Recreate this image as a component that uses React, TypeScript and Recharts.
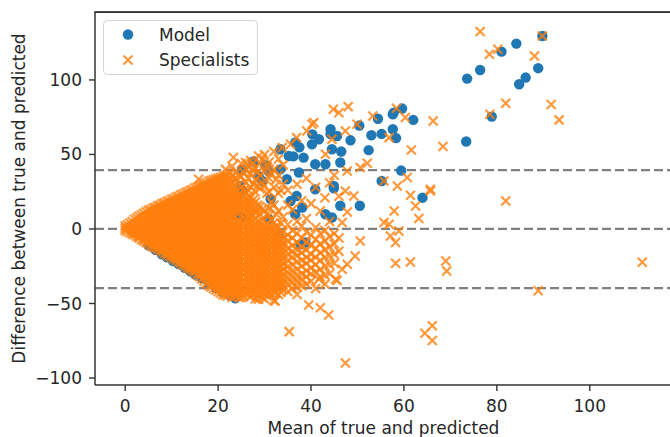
import React from 'react';
import { ScatterChart, Scatter, XAxis, YAxis, ReferenceLine, Legend, Label } from 'recharts';

const FONT = '"DejaVu Sans", sans-serif';
const BLUE = '#1f77b4';
const ORANGE = '#ff7f0e';
const TEXT = '#262626';
const SPINE = '#333333';

const xTicks = [0, 20, 40, 60, 80, 100];
const yTicks = [-100, -50, 0, 50, 100];
const limitLines = [39.5, 0, -39.7];
const xDomain: [number, number] = [-6.5, 117.7];
const yDomain: [number, number] = [-104.7, 145.6];
const frameTop = 145.5;

// Specialists: dense core, one column per mean value, listing the differences seen
const specialistsCore: [number, number[]][] = [
  [0, [2, 0.5, -1]],
  [1, [4, 1, -2.5]],
  [2, [6.5, 3.5, 0.5, -2.5, -4]],
  [3, [8.5, 5, 1.5, -2, -5, -6]],
  [4, [10.5, 7, 3.5, 0, -3.5, -7, -8]],
  [5, [12.5, 9, 5.5, 2, -1.5, -5, -8, -10]],
  [6, [14, 10.5, 7, 3.5, 0, -3.5, -7, -10, -12]],
  [7, [15.5, 12, 8.5, 5, 1.5, -2, -5.5, -9, -12, -13.5]],
  [8, [17, 13.5, 10, 6.5, 3, -0.5, -4, -7.5, -11, -14, -15.5]],
  [9, [18.5, 15, 11.5, 8, 4.5, 1, -2.5, -6, -9.5, -13, -16, -17.5]],
  [10, [20, 16.5, 13, 9.5, 6, 2.5, -1, -4.5, -8, -11.5, -15, -17.5, -19]],
  [11, [21.5, 18, 14.5, 11, 7.5, 4, 0.5, -3, -6.5, -10, -13.5, -17, -19.5, -21]],
  [12, [23, 19.5, 16, 12.5, 9, 5.5, 2, -1.5, -5, -8.5, -12, -15.5, -19, -21.5, -23]],
  [13, [24.5, 21, 17.5, 14, 10.5, 7, 3.5, 0, -3.5, -7, -10.5, -14, -17.5, -21, -23.5, -25]],
  [14, [26, 22.5, 19, 15.5, 12, 8.5, 5, 1.5, -2, -5.5, -9, -12.5, -16, -19.5, -23, -25.5, -27]],
  [15, [27.5, 24, 20.5, 17, 13.5, 10, 6.5, 3, -0.5, -4, -7.5, -11, -14.5, -18, -21.5, -25, -27.5, -29]],
  [16, [29, 25.5, 22, 18.5, 15, 11.5, 8, 4.5, 1, -2.5, -6, -9.5, -13, -16.5, -20, -23.5, -27, -30, -32]],
  [17, [30.5, 27, 23.5, 20, 16.5, 13, 9.5, 6, 2.5, -1, -4.5, -8, -11.5, -15, -18.5, -22, -25.5, -29, -32, -35]],
  [18, [32, 28.5, 25, 21.5, 18, 14.5, 11, 7.5, 4, 0.5, -3, -6.5, -10, -13.5, -17, -20.5, -24, -27.5, -31, -34.5, -38]],
  [19, [33, 29.5, 26, 22.5, 19, 15.5, 12, 8.5, 5, 1.5, -2, -5.5, -9, -12.5, -16, -19.5, -23, -26.5, -30, -33.5, -37, -40]],
  [20, [34, 30.5, 27, 23.5, 20, 16.5, 13, 9.5, 6, 2.5, -1, -4.5, -8, -11.5, -15, -18.5, -22, -25.5, -29, -32.5, -36, -39.5, -42]],
  [21, [35, 31.5, 28, 24.5, 21, 17.5, 14, 10.5, 7, 3.5, 0, -3.5, -7, -10.5, -14, -17.5, -21, -24.5, -28, -31.5, -35, -38.5, -41.5, -44]],
  [22, [36, 32.5, 29, 25.5, 22, 18.5, 15, 11.5, 8, 4.5, 1, -2.5, -6, -9.5, -13, -16.5, -20, -23.5, -27, -30.5, -34, -37.5, -41, -45]],
  [23, [42, 36, 31, 27, 23.5, 20, 16.5, 13, 9.5, 6, 2.5, -1, -4.5, -8, -11.5, -15, -18.5, -22, -25.5, -29, -32.5, -36, -39.5, -43, -46]],
  [24, [38, 33, 25, 21.5, 18, 14.5, 11, 4, 0.5, -3, -6.5, -10, -13.5, -17, -20.5, -24, -27.5, -31, -34.5, -38, -41.5, -45]],
  [25, [44, 35, 28, 23, 19.5, 16, 12.5, 3, -1, -4.5, -8, -11.5, -15, -18.5, -22, -25.5, -29, -32.5, -36, -39.5, -43, -46]],
  [26, [40, 31, 24, 20, 16.5, 13, 9.5, 6, 2.5, -1, -4.5, -8, -11.5, -15, -18.5, -22, -25.5, -29, -32.5, -36, -39.5, -43]],
  [27, [46, 37, 28, 21, 17.5, 14, 10.5, 7, 3.5, 0, -3.5, -7, -10.5, -14, -17.5, -21, -24.5, -28, -31.5, -35, -38.5, -42, -45.5]],
  [28, [41, 33, 25, 18, 14.5, 11, 3, -0.5, -4, -7.5, -11, -14.5, -18, -21.5, -25, -28.5, -32, -35.5, -39, -42.5, -47]],
  [29, [44, 36, 27, 15, 10, 4.5, 1, -2.5, -6, -9.5, -13, -16.5, -20, -23.5, -27, -30.5, -34, -37.5, -41, -44.5]],
  [30, [50, 39, 29, 12, 2, -1.5, -5, -8.5, -12, -15.5, -19, -22.5, -26, -29.5, -33, -36.5, -40, -43.5, -47]],
  [31, [45, 34, 25, 14, 9, -0.5, -4, -7.5, -11, -14.5, -18, -21.5, -25, -28.5, -32, -35.5, -39, -42.5]],
  [32, [52, 40, 28, 16, 4, 0, -3.5, -7, -10.5, -14, -17.5, -21, -24.5, -28, -31.5, -35, -38.5, -42, -48]],
  [33, [47, 36, 24, 12, 1, -5, -8.5, -12, -15.5, -19, -22.5, -26, -29.5, -33, -36.5, -40, -44]],
  [34, [43, 30, 8, -2, -6, -9.5, -13, -16.5, -20, -23.5, -27, -30.5, -34, -37.5, -41]],
  [35, [26, 16, 3, -4, -8, -13, -17, -21, -25, -29, -33, -37, -42]],
  [36, [13, -1, -6, -11, -15, -19, -24, -28, -32, -36, -40]],
  [37, [30, 5, -3, -9, -14, -18, -22, -27, -31, -35, -39, -44]],
  [38, [19, 2, -6, -12, -16, -21, -25, -30, -34, -38]],
  [39, [34, 7, -2, -9, -14, -19, -23, -28, -32, -37]],
  [40, [17, -4, -11, -17, -21, -26, -30, -35]],
  [41, [28, 1, -7, -13, -19, -24, -29, -40]],
  [42, [12, -3, -10, -16, -21, -27, -32]],
  [43, [21, -1, -8, -14, -19, -25, -31, -37]],
  [44, [31, 5, -5, -12, -18, -24, -30]],
  [45, [36, -3, -10, -17, -23]],
  [46, [22, -6, -15]],
];

// Specialists: dense core, in-between columns
const specialistsCoreMid: [number, number[]][] = [
  [0.5, [2.8, 0.5, -1.7]],
  [1.5, [5, 2, -1, -3.3]],
  [2.5, [7.5, 4, 0.5, -3, -5]],
  [3.5, [9.5, 6, 2.5, -1, -4.5, -7]],
  [4.5, [11.5, 8, 4.5, 1, -2.5, -6, -9]],
  [5.5, [13, 9.5, 6, 2.5, -1, -4.5, -8, -11]],
  [6.5, [14.5, 11, 7.5, 4, 0.5, -3, -6.5, -10, -12.8]],
  [7.5, [16, 12.5, 9, 5.5, 2, -1.5, -5, -8.5, -12, -14.5]],
  [8.5, [17.5, 14, 10.5, 7, 3.5, 0, -3.5, -7, -10.5, -14, -16.5]],
  [9.5, [19, 15.5, 12, 8.5, 5, 1.5, -2, -5.5, -9, -12.5, -16, -18.3]],
  [10.5, [20.5, 17, 13.5, 10, 6.5, 3, -0.5, -4, -7.5, -11, -14.5, -18, -20]],
  [11.5, [22, 18.5, 15, 11.5, 8, 4.5, 1, -2.5, -6, -9.5, -13, -16.5, -20, -22]],
  [12.5, [23.5, 20, 16.5, 13, 9.5, 6, 2.5, -1, -4.5, -8, -11.5, -15, -18.5, -22, -24]],
  [13.5, [25, 21.5, 18, 14.5, 11, 7.5, 4, 0.5, -3, -6.5, -10, -13.5, -17, -20.5, -24, -26]],
  [14.5, [26.5, 23, 19.5, 16, 12.5, 9, 5.5, 2, -1.5, -5, -8.5, -12, -15.5, -19, -22.5, -26, -28]],
  [15.5, [28, 24.5, 21, 17.5, 14, 10.5, 7, 3.5, 0, -3.5, -7, -10.5, -14, -17.5, -21, -24.5, -28, -30.5]],
  [16.5, [29.5, 26, 22.5, 19, 15.5, 12, 8.5, 5, 1.5, -2, -5.5, -9, -12.5, -16, -19.5, -23, -26.5, -30, -33.5]],
  [17.5, [31, 27.5, 24, 20.5, 17, 13.5, 10, 6.5, 3, -0.5, -4, -7.5, -11, -14.5, -18, -21.5, -25, -28.5, -32, -36.5]],
  [18.5, [32.5, 29, 25.5, 22, 18.5, 15, 11.5, 8, 4.5, 1, -2.5, -6, -9.5, -13, -16.5, -20, -23.5, -27, -30.5, -34, -39]],
  [19.5, [33.5, 30, 26.5, 23, 19.5, 16, 12.5, 9, 5.5, 2, -1.5, -5, -8.5, -12, -15.5, -19, -22.5, -26, -29.5, -33, -36.5, -41]],
  [20.5, [34.5, 31, 27.5, 24, 20.5, 17, 13.5, 10, 6.5, 3, -0.5, -4, -7.5, -11, -14.5, -18, -21.5, -25, -28.5, -32, -35.5, -39, -43]],
  [21.5, [35.5, 32, 28.5, 25, 21.5, 18, 14.5, 11, 7.5, 4, 0.5, -3, -6.5, -10, -13.5, -17, -20.5, -24, -27.5, -31, -34.5, -38, -41.5, -44.5]],
  [22.5, [37, 33.5, 30, 26.5, 23, 19.5, 16, 12.5, 9, 5.5, 2, -1.5, -5, -8.5, -12, -15.5, -19, -22.5, -26, -29.5, -33, -36.5, -40, -43.5]],
  [23.5, [34, 29, 25, 21.5, 18, 14.5, 8, 4.5, 1, -2.5, -6, -9.5, -13, -16.5, -20, -23.5, -27, -30.5, -34, -37.5, -41, -44.5]],
  [24.5, [36, 30, 23.5, 20, 16.5, 13, 6, 2.5, -1, -4.5, -8, -11.5, -15, -18.5, -22, -25.5, -29, -32.5, -36, -39.5, -43, -46]],
  [25.5, [38, 26, 21.5, 18, 14.5, 11, 7.5, 4, 0.5, -3, -6.5, -10, -13.5, -17, -20.5, -24, -27.5, -31, -34.5, -38, -41.5, -45]],
  [26.5, [42, 34, 26, 22, 18.5, 15, 11.5, 8, 4.5, 1, -2.5, -6, -9.5, -13, -16.5, -20, -23.5, -27, -30.5, -34, -37.5, -41, -44.5]],
  [27.5, [44, 30, 19.5, 16, 12.5, 9, 5.5, 2, -1.5, -5, -8.5, -12, -15.5, -19, -22.5, -26, -29.5, -33, -36.5, -40, -43.5]],
  [28.5, [38, 29, 16, 12.5, 5, 1.5, -2, -5.5, -9, -12.5, -16, -19.5, -23, -26.5, -30, -33.5, -37, -40.5, -44.5]],
  [29.5, [47, 31, 13, 6, 0, -3.5, -7, -10.5, -14, -17.5, -21, -24.5, -28, -31.5, -35, -38.5, -42, -46]],
  [30.5, [42, 24, 10, 4, 1, -2.5, -6, -9.5, -13, -16.5, -20, -23.5, -27, -30.5, -34, -37.5, -41, -45]],
  [31.5, [37, 18, 6, 0.5, -2, -5.5, -9, -12.5, -16, -19.5, -23, -26.5, -30, -33.5, -37, -40.5, -44]],
  [32.5, [33, 10, 2, -4, -7.5, -11, -14.5, -18, -21.5, -25, -28.5, -32, -35.5, -39, -43]],
  [33.5, [26, 4, -3, -7, -11, -14.5, -18, -21.5, -25, -28.5, -32, -35.5, -39, -42.5]],
];

// Specialists: scattered points [mean, difference]
const specialistsSparse: [number, number][] = [
  [76.4, 132.5], [78.4, 117.2], [80.2, 120.6], [88.1, 116.1], [89.8, 129.5], [81.9, 84.4],
  [78.5, 77], [91.7, 83.5], [93.4, 73.2], [66.3, 72.5], [68.4, 55.3], [61.6, 53], [81.9, 18.8],
  [65.7, 25.5], [58.4, 81], [60.3, 74.8], [53.3, 75.8], [48, 82.1], [46, 78], [40.6, 71.4],
  [39.1, 65.8], [36.9, 61.3], [33.8, 54.6], [23.3, 47.9], [28.7, 49], [35.6, 56.8], [44.5, 60.2],
  [43.1, 50.1], [25.9, 44.6], [21.6, 40], [27.3, 40], [47.4, 65.8], [49.9, 70.3], [56.8, 61.3],
  [52.1, 44.1], [50.6, 41.2], [47.8, 38.9], [55.7, 32.2], [60.7, 34.5], [58.6, 28.9], [65.7, 26.6],
  [47.4, 25.5], [61.4, 22.6], [49.2, 22.1], [47.8, 11.4], [57.9, 12.1], [62.5, 15.4], [63.2, 7],
  [55.7, 4.3], [56.8, 3.2], [46.7, 4.3], [58.9, -1.3], [57.1, -4.7], [58.2, -9.1], [50.6, -8.1],
  [49.5, -18.1], [47.8, -23.7], [58.2, -23], [61.4, -22.1], [69, -21.5], [69.2, -28.2], [46.7, -27],
  [111.3, -22.3], [88.9, -41.4], [66.1, -64.9], [64.5, -70], [66.1, -74.9], [47.4, -90],
  [45.6, -34.6], [39.5, -51], [42, -52.8], [43.8, -57.7], [35.3, -68.9], [32.3, -48.3],
  [28.7, -47.2], [45.3, -33.8], [41.7, -33.8], [40.2, 70.3], [44.8, 80.3], [15.8, 33.4],
];

// Model: [mean, difference]
const modelPoints: [number, number][] = [
  [5, -11], [6.5, -14], [7.9, -17], [9, -19], [10.3, -21.5], [11.5, -23.5], [12.8, -26], [14, -28.5],
  [15, -30.5], [16.5, -33], [18, -36.5], [19.5, -39.5], [21, -42.5], [22.5, -44.5], [23.7, -46.5],
  [12.2, 18.8], [17.6, 12], [18.3, 23], [8, 5], [15, -10], [20, -20],
  [20.8, 33.4], [25.2, 40], [28.7, 35.6], [27.6, 45.3], [30.2, 42.7], [24.7, 28.9], [25.2, 25.5],
  [25.5, 7.7], [24.3, 9], [31.3, 20], [30.9, 6.5], [33, -3.6], [29.5, 32.2], [30.9, 38.9],
  [33.4, 40], [34.8, 33.4], [33.4, 53.5], [35.2, 49], [38.4, 47.9], [36.6, 58], [41.7, 60.2],
  [44.2, 63.6], [40.2, 56.8], [44.5, 53.5], [40.9, 43.4], [43.1, 43.4], [37.4, 37.9], [44.9, 28.9],
  [44.9, 27.3], [40.9, 26.6], [43.1, 9.9], [44.5, 7.7], [36.6, 9.9], [35.6, 18.8], [38.1, 14.4],
  [36.9, 22.1], [38.8, -9.1], [37.7, -10.3], [37.5, 54.8], [36.2, 48.7], [40.3, 63.5], [44.2, 66.9],
  [45.6, 62.4], [46.5, 52], [46.3, 44.6], [46.3, 15.6], [48.5, 59.5], [50.4, 69.4], [50.5, 15.6],
  [52.4, 52.9], [53, 62.9], [54.4, 74], [55.2, 63.8], [55.2, 32.2], [57.6, 66.9], [57.6, 77],
  [57.8, 78.1], [58.3, 61], [59.4, 39.2], [59.6, 80.8], [62, 73.2], [64, 21],
  [73.4, 58.7], [73.6, 100.9], [76.4, 106.7], [78.9, 75.4], [81, 119], [84.2, 124.4], [84.8, 97.1],
  [86.2, 101.6], [88.9, 107.9], [89.8, 129.5],
];

const modelData = modelPoints.map(([v, d]) => ({ v, d }));
const specialistsData = [
  ...specialistsCore.flatMap(([v, ds]) => ds.map((d) => ({ v, d }))),
  ...specialistsCoreMid.flatMap(([v, ds]) => ds.map((d) => ({ v, d }))),
  ...specialistsSparse.map(([v, d]) => ({ v, d })),
];

const xPath = (cx: number, cy: number, s: number) =>
  `M${cx - s},${cy - s}L${cx + s},${cy + s}M${cx - s},${cy + s}L${cx + s},${cy - s}`;

const CircleShape = (props: any) => {
  const { cx, cy } = props;
  if (cx == null || cy == null) return null;
  return <circle cx={cx} cy={cy} r={5.2} fill={BLUE} />;
};

const CrossShape = (props: any) => {
  const { cx, cy } = props;
  if (cx == null || cy == null) return null;
  return <path d={xPath(cx, cy, 4.5)} stroke={ORANGE} strokeWidth={2.2} strokeOpacity={0.8} fill="none" />;
};

const LegendBox = () => (
  <svg width={155} height={55} style={{ display: 'block' }}>
    <rect x={0.5} y={0.5} width={154} height={54} rx={4} fill="rgba(255,255,255,0.8)" stroke="#d5d5d5" />
    <circle cx={25} cy={14.5} r={5.2} fill={BLUE} />
    <path d={xPath(25, 40, 4.5)} stroke={ORANGE} strokeWidth={2.2} strokeOpacity={0.8} fill="none" />
    <text x={56} y={20.5} fontSize={17} fontFamily={FONT} fill={TEXT}>Model</text>
    <text x={56} y={45.5} fontSize={17} fontFamily={FONT} fill={TEXT}>Specialists</text>
  </svg>
);

const fmt = (v: number) => String(v).replace('-', '\u2212');

const tickStyle = { fill: TEXT, fontSize: 17, fontFamily: FONT };

const YLabel = (props: any) => {
  const vb = props.viewBox || { x: 0, y: 12, width: 95, height: 373 };
  const cx = 19;
  const cy = vb.y + vb.height / 2;
  return (
    <text
      x={cx}
      y={cy}
      transform={`rotate(-90 ${cx} ${cy})`}
      textAnchor="middle"
      dominantBaseline="central"
      fontSize={17}
      fontFamily={FONT}
      fill={TEXT}
    >
      Difference between true and predicted
    </text>
  );
};

export default function App() {
  return (
    <div style={{ position: 'absolute', left: 0, top: 0, width: 670, height: 437, overflow: 'hidden', background: '#fff' }}>
      <ScatterChart width={680} height={437} margin={{ top: 12, right: 8, bottom: 0, left: 0 }}>
        <XAxis
          dataKey="v"
          type="number"
          domain={xDomain}
          ticks={xTicks}
          height={52}
          tickSize={6}
          tickMargin={9}
          tick={tickStyle}
          tickLine={{ stroke: SPINE, strokeWidth: 1.4 }}
          axisLine={{ stroke: SPINE, strokeWidth: 1.5 }}
          allowDataOverflow
        >
          <Label value="Mean of true and predicted" position="insideBottom" offset={3} fill={TEXT} fontSize={17} fontFamily={FONT} />
        </XAxis>
        <YAxis
          dataKey="d"
          type="number"
          domain={yDomain}
          ticks={yTicks}
          width={95}
          tickSize={6}
          tickMargin={7}
          tick={tickStyle}
          tickFormatter={fmt}
          tickLine={{ stroke: SPINE, strokeWidth: 1.4 }}
          axisLine={{ stroke: SPINE, strokeWidth: 1.5 }}
          allowDataOverflow
          label={<YLabel />}
        />
        <Scatter name="Model" data={modelData} fill={BLUE} shape={CircleShape} isAnimationActive={false} />
        <Scatter name="Specialists" data={specialistsData} fill={ORANGE} shape={CrossShape} isAnimationActive={false} />
        {limitLines.map((y) => (
          <ReferenceLine key={y} y={y} stroke="#808080" strokeWidth={2.2} strokeDasharray="9 4" />
        ))}
        <ReferenceLine y={frameTop} stroke={SPINE} strokeWidth={1.5} ifOverflow="visible" />
        <Legend
          layout="vertical"
          align="center"
          verticalAlign="middle"
          wrapperStyle={{ left: 103, top: 20, width: 155, height: 55 }}
          content={LegendBox}
        />
      </ScatterChart>
      <svg width={670} height={20} style={{ position: 'absolute', left: 0, top: 0, pointerEvents: 'none' }}>
        <line x1={94.25} y1={12} x2={670} y2={12} stroke={SPINE} strokeWidth={1.5} />
      </svg>
    </div>
  );
}
